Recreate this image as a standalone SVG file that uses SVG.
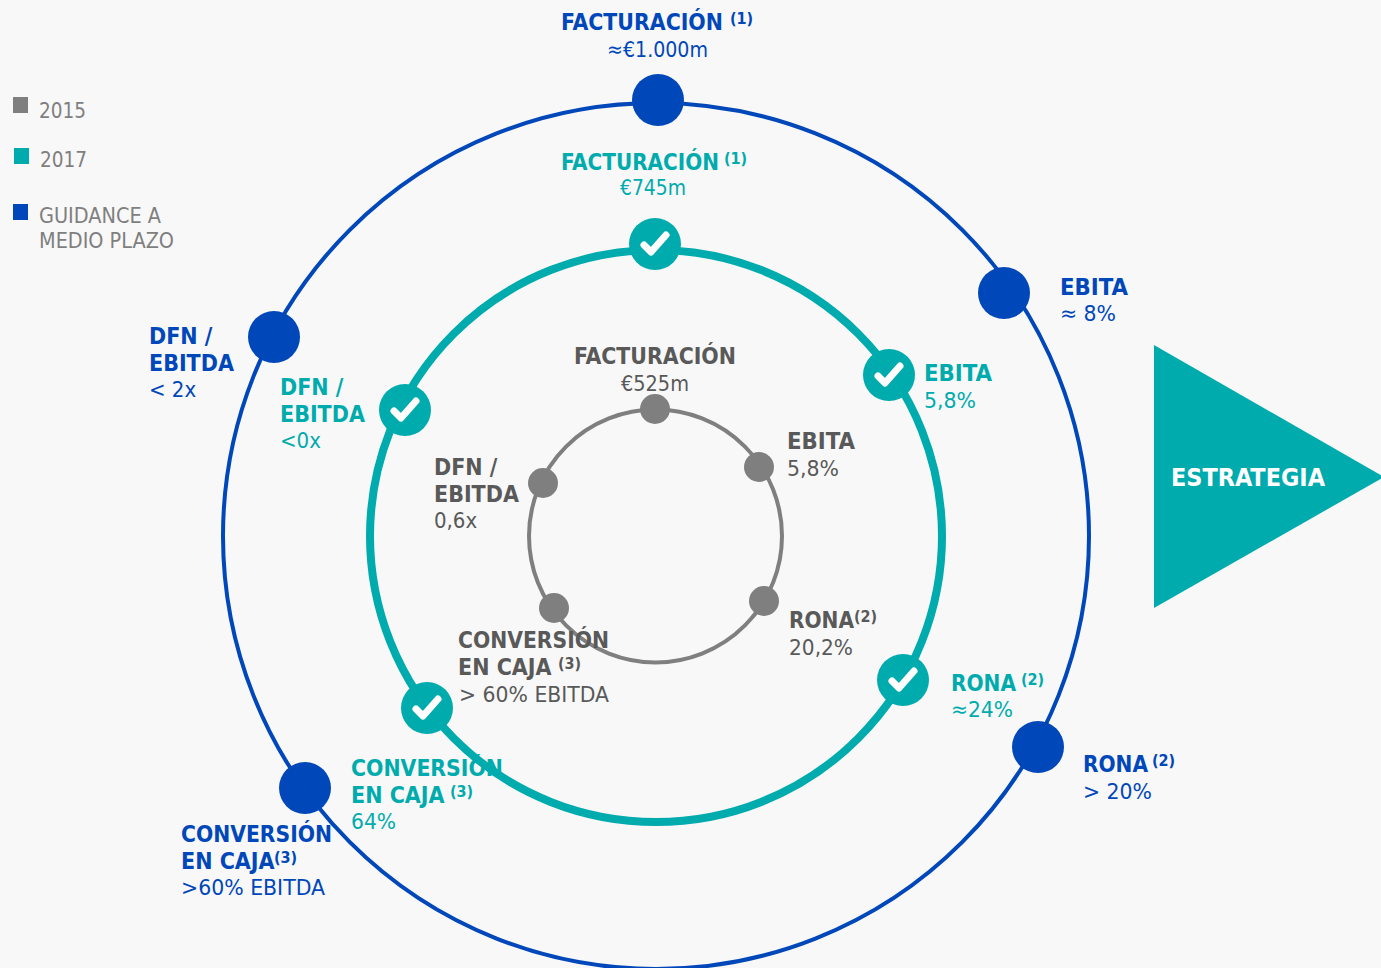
<svg xmlns="http://www.w3.org/2000/svg" width="1381" height="968" viewBox="0 0 1381 968">
<style>
text{font-family:"DejaVu Sans","Noto Sans",sans-serif;font-size:22px;font-stretch:condensed}
.b{font-weight:700;font-size:23px}
.s{font-weight:700;font-size:16px}
.blue{fill:#0047ba}.teal{fill:#00abae}.gray{fill:#595959}.lg{fill:#7f7f7f}
.ring{fill:none}
.chk{fill:none;stroke:#fff;stroke-width:7;stroke-linecap:round;stroke-linejoin:round}
</style>
<defs>
<g id="tick"><circle r="26" class="teal"/><path class="chk" d="M-11 1L-4 8L11 -9"/></g>
</defs>
<rect width="1381" height="968" fill="#f8f8f8"/>
<g id="connectors">
<circle class="ring" cx="656" cy="536" r="433" stroke="#0047ba" stroke-width="4"/>
<circle class="ring" cx="656" cy="536" r="286" stroke="#00abae" stroke-width="8"/>
<circle class="ring" cx="655.500" cy="536" r="126.500" stroke="#7f7f7f" stroke-width="4"/>
</g>
<g id="legend">
<rect x="13" y="97" width="15" height="16" class="lg"/><text x="39" y="118" class="lg" textLength="47" lengthAdjust="spacingAndGlyphs">2015</text>
<rect x="14" y="148" width="15" height="16" class="teal"/><text x="40" y="167" class="lg" textLength="47" lengthAdjust="spacingAndGlyphs">2017</text>
<rect x="13" y="204" width="15" height="16" class="blue"/><text x="39" y="223" class="lg" textLength="122" lengthAdjust="spacingAndGlyphs">GUIDANCE A</text><text x="39" y="248" class="lg" textLength="135" lengthAdjust="spacingAndGlyphs">MEDIO PLAZO</text>
</g>
<g id="n-facturacion-guidance"><circle cx="658" cy="100" r="26" class="blue"/><text x="561" y="30" class="b blue" textLength="162" lengthAdjust="spacingAndGlyphs">FACTURACIÓN</text><text x="730" y="24" class="s blue">(1)</text><text x="607" y="57" class="blue" textLength="101" lengthAdjust="spacingAndGlyphs">≈€1.000m</text></g>
<g id="n-ebita-guidance"><circle cx="1004" cy="293" r="26" class="blue"/><text x="1060" y="295" class="b blue" textLength="68" lengthAdjust="spacingAndGlyphs">EBITA</text><text x="1060" y="321" class="blue" textLength="56" lengthAdjust="spacingAndGlyphs">≈ 8%</text></g>
<g id="n-rona-guidance"><circle cx="1038" cy="747" r="26" class="blue"/><text x="1083" y="772" class="b blue" textLength="65" lengthAdjust="spacingAndGlyphs">RONA</text><text x="1152" y="766" class="s blue">(2)</text><text x="1083" y="799" class="blue" textLength="69" lengthAdjust="spacingAndGlyphs">&gt; 20%</text></g>
<g id="n-conversion-guidance"><circle cx="305" cy="788" r="26" class="blue"/><text x="181" y="842" class="b blue" textLength="151" lengthAdjust="spacingAndGlyphs">CONVERSIÓN</text><text x="181" y="869" class="b blue">EN CAJA</text><text x="274" y="863" class="s blue">(3)</text><text x="181" y="895" class="blue" textLength="144" lengthAdjust="spacingAndGlyphs">&gt;60% EBITDA</text></g>
<g id="n-dfn-guidance"><circle cx="274" cy="337" r="26" class="blue"/><text x="149" y="344" class="b blue">DFN /</text><text x="149" y="371" class="b blue">EBITDA</text><text x="149" y="397" class="blue">&lt; 2x</text></g>
<g id="n-facturacion-2017"><use href="#tick" x="655" y="244"/><text x="561" y="170" class="b teal" textLength="158" lengthAdjust="spacingAndGlyphs">FACTURACIÓN</text><text x="724" y="164" class="s teal">(1)</text><text x="620" y="195" class="teal" textLength="66" lengthAdjust="spacingAndGlyphs">€745m</text></g>
<g id="n-ebita-2017"><use href="#tick" x="889" y="375"/><text x="924" y="381" class="b teal" textLength="68" lengthAdjust="spacingAndGlyphs">EBITA</text><text x="924" y="408" class="teal" textLength="52" lengthAdjust="spacingAndGlyphs">5,8%</text></g>
<g id="n-rona-2017"><use href="#tick" x="903" y="680"/><text x="951" y="691" class="b teal" textLength="65" lengthAdjust="spacingAndGlyphs">RONA</text><text x="1021" y="685" class="s teal">(2)</text><text x="951" y="717" class="teal" textLength="62" lengthAdjust="spacingAndGlyphs">≈24%</text></g>
<g id="n-conversion-2017"><use href="#tick" x="427" y="708"/><text x="351" y="776" class="b teal" textLength="152" lengthAdjust="spacingAndGlyphs">CONVERSIÓN</text><text x="351" y="803" class="b teal">EN CAJA</text><text x="450" y="797" class="s teal">(3)</text><text x="351" y="829" class="teal" textLength="45" lengthAdjust="spacingAndGlyphs">64%</text></g>
<g id="n-dfn-2017"><use href="#tick" x="405" y="410"/><text x="280" y="395" class="b teal">DFN /</text><text x="280" y="422" class="b teal">EBITDA</text><text x="280" y="448" class="teal">&lt;0x</text></g>
<g id="n-facturacion-2015"><circle cx="655" cy="409" r="15" class="lg"/><text x="574" y="364" class="b gray" textLength="162" lengthAdjust="spacingAndGlyphs">FACTURACIÓN</text><text x="621" y="391" class="gray" textLength="68" lengthAdjust="spacingAndGlyphs">€525m</text></g>
<g id="n-ebita-2015"><circle cx="759" cy="467" r="15" class="lg"/><text x="787" y="449" class="b gray" textLength="68" lengthAdjust="spacingAndGlyphs">EBITA</text><text x="787" y="476" class="gray" textLength="52" lengthAdjust="spacingAndGlyphs">5,8%</text></g>
<g id="n-rona-2015"><circle cx="764" cy="601" r="15" class="lg"/><text x="789" y="628" class="b gray" textLength="65" lengthAdjust="spacingAndGlyphs">RONA</text><text x="854" y="622" class="s gray">(2)</text><text x="789" y="655" class="gray" textLength="64" lengthAdjust="spacingAndGlyphs">20,2%</text></g>
<g id="n-conversion-2015"><circle cx="554" cy="608" r="15" class="lg"/><text x="458" y="648" class="b gray" textLength="151" lengthAdjust="spacingAndGlyphs">CONVERSIÓN</text><text x="458" y="675" class="b gray">EN CAJA</text><text x="558" y="669" class="s gray">(3)</text><text x="459" y="702" class="gray" textLength="150" lengthAdjust="spacingAndGlyphs">&gt; 60% EBITDA</text></g>
<g id="n-dfn-2015"><circle cx="543" cy="483" r="15" class="lg"/><text x="434" y="475" class="b gray">DFN /</text><text x="434" y="502" class="b gray">EBITDA</text><text x="434" y="528" class="gray">0,6x</text></g>
<g id="n-estrategia"><polygon points="1154,345 1384,477 1154,608" class="teal"/><text x="1171" y="486" class="b" fill="#fff" style="font-size:25px" textLength="154" lengthAdjust="spacingAndGlyphs">ESTRATEGIA</text></g>
</svg>
